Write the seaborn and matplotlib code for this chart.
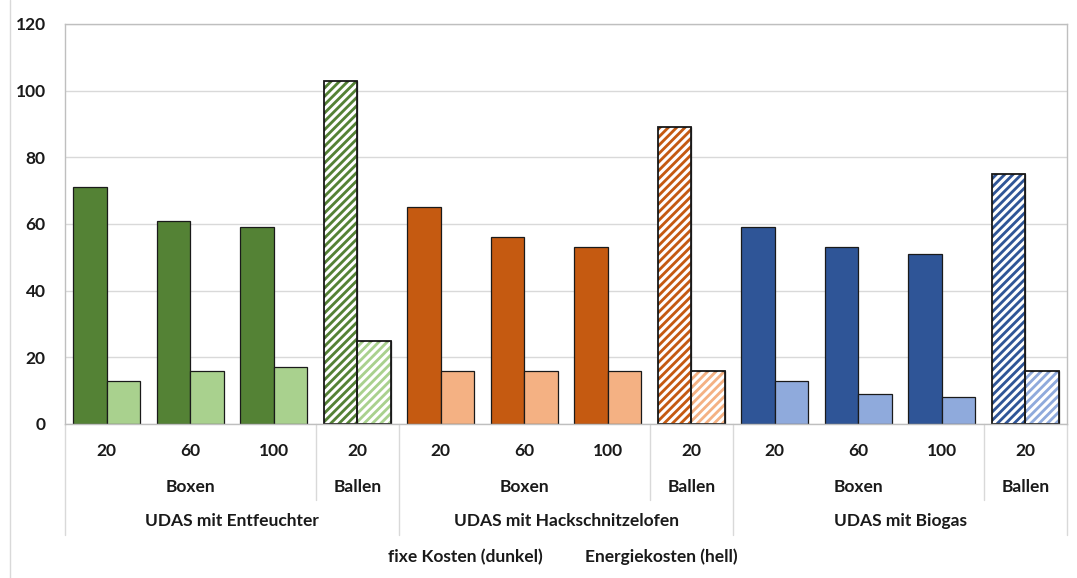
import matplotlib
matplotlib.use("Agg")
import pandas as pd
import matplotlib.pyplot as plt
import matplotlib.patches as mpatches
import matplotlib.transforms as mtrans
import seaborn as sns

# data
systems = ["UDAS mit Entfeuchter", "UDAS mit Hackschnitzelofen", "UDAS mit Biogas"]
storage = ["Boxen", "Boxen", "Boxen", "Ballen"]
sizes = ["20", "60", "100", "20"]
fixe_kosten = [71, 61, 59, 103, 65, 56, 53, 89, 59, 53, 51, 75]
energie_kosten = [13, 16, 17, 25, 16, 16, 16, 16, 13, 9, 8, 16]
dark_colors = ["#548235", "#C55A11", "#2F5597"]
light_colors = ["#A9D18E", "#F4B183", "#8FAADC"]
legend_labels = ["fixe Kosten (dunkel)", "Energiekosten (hell)"]

cats = [f"{s}|{st}|{sz}|{i}" for s in systems for i, (st, sz) in enumerate(zip(storage, sizes))]
df = pd.concat([
    pd.DataFrame({"cat": cats, "kind": legend_labels[0], "wert": fixe_kosten}),
    pd.DataFrame({"cat": cats, "kind": legend_labels[1], "wert": energie_kosten}),
], ignore_index=True)

sns.set_style("white")
plt.rcParams["font.family"] = ["Lato", "DejaVu Sans"]
plt.rcParams["font.weight"] = "bold"
plt.rcParams["hatch.linewidth"] = 2.2
fs = 12.5
tc = "#1a1a1a"

fig = plt.figure(figsize=(10.77, 5.78), dpi=100)
ax = fig.add_axes([65 / 1077, 1 - 424 / 578, 1002 / 1077, 400 / 578])

sns.barplot(ax=ax, data=df, x="cat", y="wert", hue="kind", order=cats,
            hue_order=legend_labels, width=0.8, edgecolor="#1a1a1a",
            linewidth=0.9, legend=False)

for k, cont in enumerate(ax.containers):
    cols = dark_colors if k == 0 else light_colors
    for j, bar in enumerate(cont.patches):
        bar.set_facecolor(cols[j // 4])
        if storage[j % 4] == "Ballen":
            h = mpatches.Rectangle(bar.get_xy(), bar.get_width(), bar.get_height(),
                                   facecolor="none", edgecolor="white", hatch="////",
                                   linewidth=0, zorder=bar.get_zorder() + 0.1)
            ax.add_patch(h)
            o = mpatches.Rectangle(bar.get_xy(), bar.get_width(), bar.get_height(),
                                   facecolor="none", edgecolor="#1a1a1a", linewidth=1.3,
                                   zorder=bar.get_zorder() + 0.2)
            ax.add_patch(o)

ax.set_ylim(0, 120)
ax.set_xlim(-0.5, len(cats) - 0.5)
ax.set_yticks(range(0, 121, 20))
ax.yaxis.grid(True, color="#D9D9D9", linewidth=1)
ax.set_axisbelow(True)
for sp in ax.spines.values():
    sp.set_color("#BFBFBF")
    sp.set_linewidth(1)
ax.tick_params(axis="y", length=0, labelsize=fs, pad=14, labelcolor=tc)
ax.set_xticks(range(len(cats)))
ax.set_xticklabels(sizes * 3, fontsize=fs, color=tc)
ax.tick_params(axis="x", length=0, pad=14)
ax.set_xlabel("")
ax.set_ylabel("")

# multi-level category axis
trans = mtrans.blended_transform_factory(ax.transData, ax.transAxes)
px = 1 / 400  # one pixel in axes height units
y_lvl2 = -(487 - 424) * px
y_lvl3 = -(521 - 424) * px
y_short = -(500 - 424) * px
y_long = -(535 - 424) * px
line_kw = dict(color="#D9D9D9", linewidth=1, clip_on=False, transform=trans)

for g, name in enumerate(systems):
    base = g * 4
    ax.text(base + 1.5, y_lvl3, name, transform=trans, ha="center", va="center",
            fontsize=fs, color=tc)
    ax.text(base + 1, y_lvl2, "Boxen", transform=trans, ha="center", va="center",
            fontsize=fs, color=tc)
    ax.text(base + 3, y_lvl2, "Ballen", transform=trans, ha="center", va="center",
            fontsize=fs, color=tc)
    ax.plot([base - 0.5, base - 0.5], [0, y_long], **line_kw)
    ax.plot([base + 2.5, base + 2.5], [0, y_short], **line_kw)
ax.plot([len(cats) - 0.5] * 2, [0, y_long], **line_kw)

# outer chart frame line on the left
fig.add_artist(plt.Line2D([10 / 1077, 10 / 1077], [0, 1], color="#D9D9D9",
                          linewidth=1, transform=fig.transFigure))

handles = [mpatches.Patch(facecolor="none", edgecolor="none") for _ in legend_labels]
fig.legend(handles, legend_labels, loc="center", bbox_to_anchor=(0.508, 1 - 557 / 578),
           ncol=2, frameon=False, fontsize=fs, handlelength=1.0, columnspacing=0.65,
           labelcolor=tc)

fig.savefig("out.png", dpi=100)
